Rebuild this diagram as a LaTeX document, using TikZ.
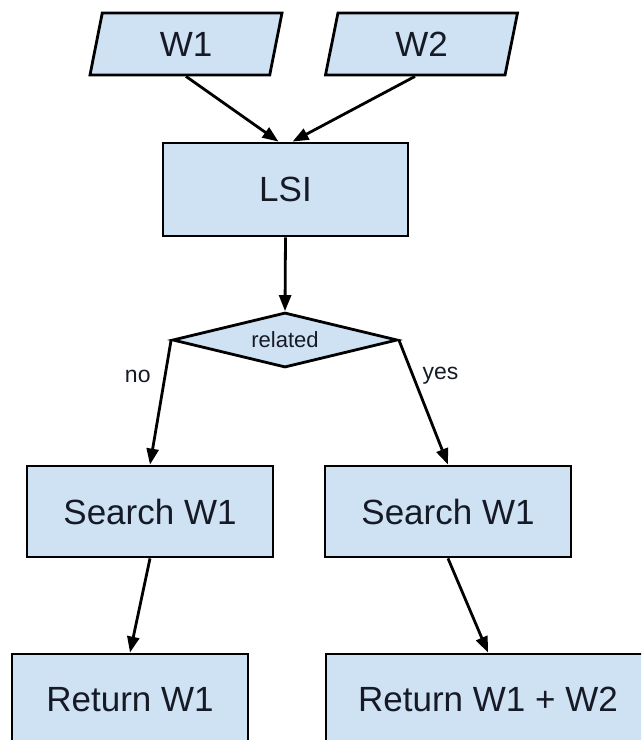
\documentclass[tikz,border=0pt]{standalone}
\usepackage{fontspec}
\setmainfont{Liberation Sans}
\usetikzlibrary{arrows.meta}
\usetikzlibrary{shapes.geometric}
\usetikzlibrary{positioning}

\definecolor{boxblue}{RGB}{207,226,243}
\definecolor{inkdark}{RGB}{22,26,38}

\begin{document}
\begin{tikzpicture}[
    x=1pt, y=-1pt,
    box/.style={rectangle, draw, fill=boxblue, line width=2.8pt, inner sep=0pt,
        text=inkdark, font=\fontsize{35}{40}\selectfont},
    dataio/.style={box, trapezium, trapezium left angle=63, trapezium right angle=117,
        trapezium stretches body, minimum width=192pt, minimum height=62pt},
    decision/.style={box, diamond, aspect=4.1, minimum width=225pt, minimum height=55pt,
        font=\fontsize{22}{26}\selectfont},
    edgelabel/.style={text=inkdark, font=\fontsize{23}{27}\selectfont, inner sep=0pt},
    >={Triangle[length=16pt, width=12pt]}
]
\useasboundingbox (0,0) rectangle (641,740);
\clip (0,0) rectangle (641,740);

% --- Inputs ---
\node[dataio] (w1) at (186,44) {W1};
\node[dataio] (w2) at (421.5,44) {W2};

% --- LSI step ---
\node[box, minimum width=245pt, minimum height=93pt] (lsi) at (285.5,189.5) {LSI};

% --- Decision ---
\node[decision] (rel) at (285,340) {related};

% --- Search boxes ---
\node[box, minimum width=246pt, minimum height=91pt] (srchL) at (150,511.5) {Search W1};
\node[box, minimum width=246pt, minimum height=91pt] (srchR) at (448,511.5) {Search W1};

% --- Results (run off the page) ---
\node[box, minimum width=236pt, minimum height=91pt] (retL) at (130,699.5) {Return W1};
\node[box, minimum width=324pt, minimum height=91pt] (retR) at (488,699.5) {Return W1 + W2};

% --- Inputs into LSI ---
\draw[->, line width=2.8pt] (w1.south) -- ([xshift=-7pt]lsi.north);
\draw[->, line width=2.8pt] (w2.bottom side) -- ([xshift=7pt]lsi.north);

% --- Branches ---
\draw[->, line width=2.8pt] (rel.west) -- (srchL.north)
    node[edgelabel, pos=0.29, left=13pt] (no) {no};
\draw[->, line width=2.8pt] (rel.east) -- (srchR.north)
    node[edgelabel, pos=0.29, right=8pt] (yes) {yes};

% --- Straight down ---
\foreach \a/\b in {lsi/rel, srchL/retL, srchR/retR}
{
    \draw[->, line width=2.8pt] (\a.south) -- (\b.north);
}

\end{tikzpicture}
\end{document}
